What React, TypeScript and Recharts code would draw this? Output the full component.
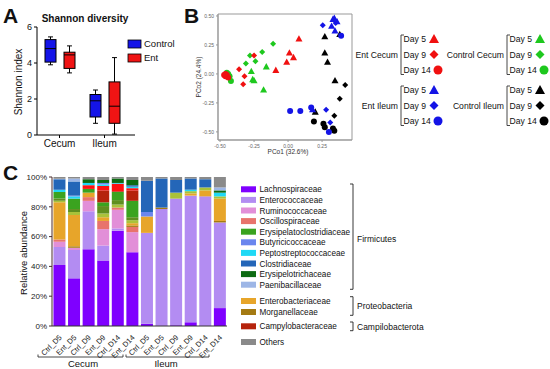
import {
  Bar, BarChart, ComposedChart, ReferenceArea, Scatter, ScatterChart, XAxis, YAxis,
} from "recharts";

const FONT = "'Liberation Sans', Arial, sans-serif";

// ---- A: Shannon diversity box plots
const GROUPS = ["Cecum", "Ileum"];
const CTRL_MIN = [3.9, 0.65];
const CTRL_Q1 = [4.05, 1.0];
const CTRL_MED = [4.8, 1.9];
const CTRL_Q3 = [5.3, 2.25];
const CTRL_MAX = [5.45, 2.5];
const ENT_MIN = [3.45, 0.05];
const ENT_Q1 = [3.7, 0.65];
const ENT_MED = [4.45, 1.6];
const ENT_Q3 = [4.6, 2.95];
const ENT_MAX = [4.95, 4.3];
const CTRL_BLUE = "#1414e8";
const ENT_RED = "#f01414";

// ---- B: PCoA points [PCo1, PCo2]
const EC_D5 = [[0.08, 0.30], [0.01, 0.18], [0.04, 0.14], [-0.01, 0.10], [-0.09, 0.03]];
const EC_D9 = [[-0.25, 0.16], [-0.36, 0.04], [-0.32, -0.02], [-0.33, -0.09]];
const EC_D14 = [[-0.47, -0.01], [-0.46, -0.02], [-0.45, -0.01], [-0.44, -0.03], [-0.46, 0.0]];
const CC_D5 = [[-0.27, 0.02], [-0.26, -0.05], [-0.25, -0.06], [-0.16, 0.06], [-0.18, -0.14]];
const CC_D9 = [[-0.11, 0.26], [-0.19, 0.19], [-0.28, 0.16], [-0.31, 0.09], [-0.24, 0.11]];
const CC_D14 = [[-0.45, 0.01], [-0.44, 0.0], [-0.42, -0.06], [-0.43, -0.02]];
const EI_D5 = [[0.33, 0.47], [0.36, 0.45], [0.32, 0.41], [0.345, 0.37], [0.34, 0.48], [0.18, -0.31]];
const EI_D9 = [[0.255, 0.42], [0.28, -0.31], [0.31, -0.42], [0.35, 0.44]];
const EI_D14 = [[0.015, -0.32], [0.09, -0.32], [0.17, -0.29], [0.30, -0.50], [0.39, 0.33]];
const CI_D5 = [[0.27, 0.32], [0.27, 0.18], [0.29, 0.10], [0.345, -0.06], [0.20, -0.33], [0.38, 0.34]];
const CI_D9 = [[0.42, -0.095], [0.38, -0.215], [0.34, -0.36]];
const CI_D14 = [[0.19, -0.41], [0.26, -0.43], [0.27, -0.46], [0.33, -0.47], [0.34, -0.49]];
const PCO_X_TICKS = [-0.5, -0.25, 0, 0.25];
const PCO_Y_TICKS = [-0.5, -0.25, 0, 0.25, 0.5];

// ---- C: relative abundance (%), 12 samples
const SAMPLES = ["Ctrl_D5", "Ent_D5", "Ctrl_D9", "Ent_D9", "Ctrl_D14", "Ent_D14"];
const SITES = ["Cecum", "Ileum"];
const LACHNO = [41, 32, 51.5, 44, 64, 49.5, 1.5, 0.3, 0.5, 2.5, 0.3, 12];
const ENTEROCOCC = [12, 19, 25.5, 10, 1.5, 0, 61, 78.2, 85, 85, 86.7, 57.5];
const RUMINO = [3.5, 1.5, 7, 11, 12.5, 13.5, 0, 0, 0, 0, 0, 0];
const OSCILLO = [1.5, 0, 2.5, 5.5, 1.5, 3.5, 0, 0, 0, 0, 0, 0];
const MORGAN = [0, 1, 0, 0, 0, 1, 0, 1, 0, 0, 0, 1];
const ENTEROBACT = [25, 21, 3, 2.5, 0, 1.5, 11, 0, 0, 1.5, 4, 15];
const MINOR_YG = [1, 2, 0, 2.5, 2, 2, 0, 0, 4, 1.5, 2, 1.5];
const MINOR_OLIVE = [1.5, 2, 0, 5, 3, 2, 0, 0, 0, 0, 0, 0];
const ERYSIPCLOSTR = [4.5, 7, 2.5, 2.5, 5.5, 11, 0, 0, 0, 0, 0, 0];
const CAMPYLO = [0, 0, 0, 8, 0.5, 7, 0, 0, 0, 0, 0, 0];
const MINOR_RED = [0, 0, 2.5, 3, 5, 1.5, 0, 0, 0, 0, 0, 0];
const PEPTO = [1.5, 1.5, 1.5, 1, 0.5, 1, 0, 0, 0, 1, 0, 2.5];
const BUTYRI = [0, 0.5, 0, 1, 0, 0, 3, 0, 0, 0, 0, 0];
const CLOSTR = [7, 9.5, 0, 0, 0, 1, 21, 19.5, 8.5, 7.5, 5.5, 0];
const ERYSIPELO = [0, 0, 2.5, 2, 3, 3.5, 0, 0, 0, 0, 0, 1.5];
const PAENI = [0.3, 2, 0, 0, 0, 0, 0, 0, 0, 0, 0, 2];
const OTHERS = [1.2, 1, 1.5, 2, 1, 2, 2.5, 1, 2, 1, 1.5, 7];

// stacking order bottom -> top
const STACK = [
  { key: "Lachnospiraceae", vals: LACHNO, color: "#7f00ff" },
  { key: "Enterococcaceae", vals: ENTEROCOCC, color: "#b38cf2" },
  { key: "Ruminococcaceae", vals: RUMINO, color: "#e28fd8" },
  { key: "Oscillospiraceae", vals: OSCILLO, color: "#e8736c" },
  { key: "Morganellaceae", vals: MORGAN, color: "#a47a12" },
  { key: "Enterobacteriaceae", vals: ENTEROBACT, color: "#e7a52a" },
  { key: "minorYG", vals: MINOR_YG, color: "#a9c23a" },
  { key: "minorOlive", vals: MINOR_OLIVE, color: "#5f8f1f" },
  { key: "Erysipelatoclostridiaceae", vals: ERYSIPCLOSTR, color: "#3aa31f" },
  { key: "Campylobacteraceae", vals: CAMPYLO, color: "#b5230c" },
  { key: "minorRed", vals: MINOR_RED, color: "#ff1010" },
  { key: "Peptostreptococcaceae", vals: PEPTO, color: "#1fd9f5" },
  { key: "Butyricicoccaceae", vals: BUTYRI, color: "#6a86ee" },
  { key: "Clostridiaceae", vals: CLOSTR, color: "#2466b8" },
  { key: "Erysipelotrichaceae", vals: ERYSIPELO, color: "#0d6b12" },
  { key: "Paenibacillaceae", vals: PAENI, color: "#9db6e6" },
  { key: "Others", vals: OTHERS, color: "#8a8a8a" },
];
const COLOR = Object.fromEntries(STACK.map(s => [s.key, s.color]));
const FIRMICUTES = ["Lachnospiraceae", "Enterococcaceae", "Ruminococcaceae", "Oscillospiraceae",
  "Erysipelatoclostridiaceae", "Butyricicoccaceae", "Peptostreptococcaceae", "Clostridiaceae",
  "Erysipelotrichaceae", "Paenibacillaceae"];
const PROTEO = ["Enterobacteriaceae", "Morganellaceae"];
const CAMPY = ["Campylobacteraceae"];

const boxData = GROUPS.map((g, i) => ({
  group: g,
  ctrl: { min: CTRL_MIN[i], q1: CTRL_Q1[i], med: CTRL_MED[i], q3: CTRL_Q3[i], max: CTRL_MAX[i] },
  ent: { min: ENT_MIN[i], q1: ENT_Q1[i], med: ENT_MED[i], q3: ENT_Q3[i], max: ENT_MAX[i] },
}));

const abundData = SITES.flatMap((site, si) => SAMPLES.map((s, j) => {
  const row: Record<string, number | string> = { id: `${site}:${s}` };
  STACK.forEach(st => { row[st.key] = st.vals[si * 6 + j]; });
  return row;
}));

const pts = (a: number[][]) => a.map(([x, y]) => ({ x, y }));

// box drawn inside the min..max range bar that recharts positions for us
const boxShape = (fill: string, k: "ctrl" | "ent") => (p: any) => {
  const s = p.payload[k];
  const top = Math.min(p.y, p.y + p.height), h = Math.abs(p.height);
  const py = (v: number) => top + (s.max - v) * h / (s.max - s.min);
  const cx = p.x + p.width / 2, cw = p.width * 0.45;
  return (
    <g stroke="#000" strokeWidth={1}>
      <line x1={cx} x2={cx} y1={py(s.max)} y2={py(s.min)} />
      <line x1={cx - cw / 2} x2={cx + cw / 2} y1={py(s.max)} y2={py(s.max)} />
      <line x1={cx - cw / 2} x2={cx + cw / 2} y1={py(s.min)} y2={py(s.min)} />
      <rect x={p.x} y={py(s.q3)} width={p.width} height={py(s.q1) - py(s.q3)} fill={fill} />
      <line x1={p.x} x2={p.x + p.width} y1={py(s.med)} y2={py(s.med)} />
    </g>
  );
};

const tri = (fill: string, w: number) => (p: any) => (
  <path d={`M${p.cx},${p.cy - w * 0.55} L${p.cx + w / 2},${p.cy + w * 0.35} L${p.cx - w / 2},${p.cy + w * 0.35}Z`} fill={fill} />
);
const dia = (fill: string, r: number) => (p: any) => (
  <path d={`M${p.cx},${p.cy - r} L${p.cx + r},${p.cy} L${p.cx},${p.cy + r} L${p.cx - r},${p.cy}Z`} fill={fill} />
);
const dot = (fill: string, r: number) => (p: any) => <circle cx={p.cx} cy={p.cy} r={r} fill={fill} />;

const SCAT = [
  { d: CC_D14, shape: dot("#1ec81e", 3) }, { d: CC_D9, shape: dia("#1ec81e", 3) }, { d: CC_D5, shape: tri("#1ec81e", 7) },
  { d: EC_D14, shape: dot("#f01010", 3) }, { d: EC_D9, shape: dia("#f01010", 3) }, { d: EC_D5, shape: tri("#f01010", 7) },
  { d: CI_D14, shape: dot("#000", 3) }, { d: CI_D9, shape: dia("#000", 3) }, { d: CI_D5, shape: tri("#000", 7) },
  { d: EI_D14, shape: dot("#1414e6", 3) }, { d: EI_D9, shape: dia("#1414e6", 3) }, { d: EI_D5, shape: tri("#1414e6", 7) },
];

const RotTick = (p: any) => {
  const label = String(p.payload.value).split(":")[1];
  const x = p.x + 3, y = p.y + 4;
  return <text x={x} y={y} transform={`rotate(-45 ${x} ${y})`} textAnchor="end" fontSize={7.5} fill="#222" fontFamily={FONT}>{label}</text>;
};

function LegendMarker({ kind, x, y, fill }: { kind: number; x: number; y: number; fill: string }) {
  if (kind === 0) return <path d={`M${x},${y - 5} L${x + 5},${y + 4} L${x - 5},${y + 4}Z`} fill={fill} />;
  if (kind === 1) return <path d={`M${x},${y - 4.5} L${x + 4.5},${y} L${x},${y + 4.5} L${x - 4.5},${y}Z`} fill={fill} />;
  return <circle cx={x + 4} cy={y} r={4.5} fill={fill} />;
}

function GroupLegend({ label, bx, cy, fill }: { label: string; bx: number; cy: number; fill: string }) {
  const rows = [cy - 15.5, cy, cy + 15.5];
  return (
    <g>
      <text x={bx - 3} y={cy + 3} textAnchor="end" fontSize={8.6}>{label}</text>
      <path d={`M${bx + 3},${cy - 19.5} H${bx} V${cy + 20} H${bx + 3}`} stroke="#333" fill="none" strokeWidth={0.9} />
      {["Day 5", "Day 9", "Day 14"].map((d, i) => (
        <g key={d}>
          <text x={bx + 2.5} y={rows[i] + 3} fontSize={8.6}>{d}</text>
          <LegendMarker kind={i} x={bx + 33} y={rows[i]} fill={fill} />
        </g>
      ))}
    </g>
  );
}

function Overlay() {
  const rowY = (i: number) => (i < 10 ? 189.3 + i * 10.6 : i < 12 ? 301 + (i - 10) * 11 : i === 12 ? 326.3 : 342);
  const names = [...FIRMICUTES, ...PROTEO, ...CAMPY, "Others"];
  const bracketR = (y1: number, y2: number) => `M350,${y1} H353 V${y2} H350`;
  return (
    <svg width={550} height={369} style={{ position: "absolute", left: 0, top: 0, pointerEvents: "none" }}
      fontFamily={FONT} fill="#111">
      <text x={3} y={23} fontSize={21} fontWeight="bold">A</text>
      <text x={184} y={23} fontSize={21} fontWeight="bold">B</text>
      <text x={3} y={180} fontSize={21} fontWeight="bold">C</text>

      <text x={85} y={22} fontSize={10} fontWeight="bold" textAnchor="middle">Shannon diversity</text>
      <text x={19} y={82} fontSize={10} textAnchor="middle" transform="rotate(-90 19 82)" dy={3}>Shannon index</text>
      <rect x={128} y={40} width={13} height={8} fill={CTRL_BLUE} stroke="#000" strokeWidth={0.8} />
      <text x={144} y={47} fontSize={9.5}>Control</text>
      <rect x={128} y={54} width={13} height={8} fill={ENT_RED} stroke="#000" strokeWidth={0.8} />
      <text x={144} y={61} fontSize={9.5}>Ent</text>

      <text x={288} y={154} fontSize={6.5} textAnchor="middle" fill="#333">PCo1 (32.6%)</text>
      <text x={199} y={77} fontSize={6.5} textAnchor="middle" fill="#333" transform="rotate(-90 199 77)" dy={2}>PCo2 (24.4%)</text>

      <GroupLegend label="Ent Cecum" bx={401} cy={54.5} fill="#f01010" />
      <GroupLegend label="Control Cecum" bx={507} cy={54.5} fill="#1ec81e" />
      <GroupLegend label="Ent Ileum" bx={401} cy={105.5} fill="#1414e6" />
      <GroupLegend label="Control Ileum" bx={507} cy={105.5} fill="#000" />

      <text x={24} y={253} fontSize={9.5} textAnchor="middle" transform="rotate(-90 24 253)" dy={3}>Relative abundance</text>
      <path d="M38,354.5 V357 H123 V354.5" stroke="#333" fill="none" strokeWidth={0.9} />
      <text x={83} y={367} fontSize={9.5} textAnchor="middle">Cecum</text>
      <path d="M126,354.5 V357 H209 V354.5" stroke="#333" fill="none" strokeWidth={0.9} />
      <text x={166} y={367} fontSize={9.5} textAnchor="middle">Ileum</text>

      {names.map((n, i) => (
        <g key={n}>
          <rect x={241} y={rowY(i) - 3} width={15} height={6} fill={COLOR[n]} />
          <text x={259.5} y={rowY(i) + 3} fontSize={8.2}>{n}</text>
        </g>
      ))}
      <g stroke="#222" fill="none" strokeWidth={0.9}>
        <path d={bracketR(184, 289.3)} />
        <path d={bracketR(296.7, 315.3)} />
        <path d={bracketR(322, 330.7)} />
      </g>
      <text x={357} y={242} fontSize={8.5}>Firmicutes</text>
      <text x={357} y={309} fontSize={8.5}>Proteobacteria</text>
      <text x={357} y={329.5} fontSize={8.5}>Campilobacterota</text>
    </svg>
  );
}

export default function App() {
  return (
    <div style={{ position: "relative", width: 550, height: 369, background: "#fff", fontFamily: FONT }}>
      <style>{"body{margin:0}"}</style>

      <div style={{ position: "absolute", left: 0, top: 0 }}>
        <ComposedChart width={180} height={160} data={boxData} margin={{ top: 27, right: 45, bottom: 0, left: 9 }}
          barGap={8} barCategoryGap={8}>
          <XAxis dataKey="group" height={25} padding={{ left: 0, right: 8 }} stroke="#000" tickSize={3}
            tick={{ fontSize: 10, fill: "#111", fontFamily: FONT }} />
          <YAxis domain={[0, 6]} ticks={[0, 2, 4, 6]} width={28} stroke="#000" tickSize={3}
            tick={{ fontSize: 9, fill: "#111", fontFamily: FONT }} />
          <Bar dataKey={(d: any) => [d.ctrl.min, d.ctrl.max]} shape={boxShape(CTRL_BLUE, "ctrl")} isAnimationActive={false} />
          <Bar dataKey={(d: any) => [d.ent.min, d.ent.max]} shape={boxShape(ENT_RED, "ent")} isAnimationActive={false} />
        </ComposedChart>
      </div>

      <div style={{ position: "absolute", left: 180, top: 0 }}>
        <ScatterChart width={180} height={160} margin={{ top: 14, right: 8, bottom: 8, left: 18 }}>
          <XAxis type="number" dataKey="x" domain={[-0.515, 0.47]} ticks={PCO_X_TICKS} allowDataOverflow height={12}
            stroke="#999" tickSize={2} tickFormatter={(v: number) => v.toFixed(2)}
            tick={{ fontSize: 5, fill: "#666", fontFamily: FONT }} />
          <YAxis type="number" dataKey="y" domain={[-0.57, 0.517]} ticks={PCO_Y_TICKS} allowDataOverflow width={20}
            stroke="#999" tickSize={2} tickFormatter={(v: number) => v.toFixed(2)}
            tick={{ fontSize: 5, fill: "#666", fontFamily: FONT }} />
          <ReferenceArea x1={-0.515} x2={0.47} y1={-0.57} y2={0.517} fill="none" stroke="#999" strokeWidth={1} />
          {SCAT.map((s, i) => (
            <Scatter key={i} data={pts(s.d)} shape={s.shape} isAnimationActive={false} />
          ))}
        </ScatterChart>
      </div>

      <div style={{ position: "absolute", left: 0, top: 160 }}>
        <BarChart width={235} height={209} data={abundData} margin={{ top: 17, right: 8, bottom: 0, left: 8 }}
          barCategoryGap="10%">
          <XAxis dataKey="id" height={43} interval={0} tickLine={false} stroke="#333" tick={RotTick} />
          <YAxis domain={[0, 100]} ticks={[0, 20, 40, 60, 80, 100]} width={44} stroke="#4a2a2a" tickSize={3}
            tickFormatter={(v: number) => `${v}%`} tick={{ fontSize: 8, fill: "#222", fontFamily: FONT }} />
          {STACK.map(s => (
            <Bar key={s.key} dataKey={s.key} stackId="a" fill={s.color} isAnimationActive={false} />
          ))}
        </BarChart>
      </div>

      <Overlay />
    </div>
  );
}
